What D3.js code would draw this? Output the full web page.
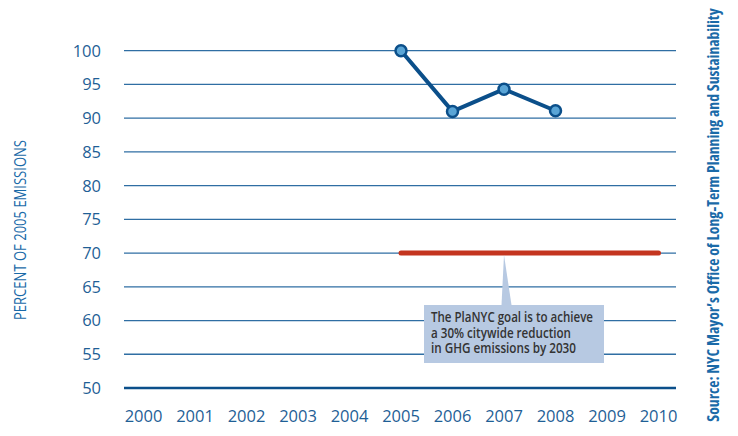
<!DOCTYPE html>
<html><head><meta charset="utf-8">
<script src="https://cdn.jsdelivr.net/npm/d3@7"></script>
<style>
html,body{margin:0;padding:0;background:#fff;}
svg{display:block;}
</style></head>
<body>
<svg id="chart" width="738" height="436"></svg>
<script>
const years = [2000,2001,2002,2003,2004,2005,2006,2007,2008,2009,2010];
const yTicks = [50,55,60,65,70,75,80,85,90,95,100];
const emissionYears = [2005,2006,2007,2008];
const emissionValues = [100,91,94.3,91.1];
const goalYears = [2005,2010];
const goalValues = [70,70];
const yTitle = "PERCENT OF 2005 EMISSIONS";
const sourceText = "Source: NYC Mayor\u2019s Office of Long-Term Planning and Sustainability";
const noteLines = ["The PlaNYC goal is to achieve","a 30% citywide reduction","in GHG emissions by 2030"];
const noteWidths = [162,140,145];

const svg = d3.select("#chart");
const blue = "#0b4f8a", txt = "#1f5f96";
const x = d3.scalePoint().domain(years).range([143.5,658.5]);
const y = d3.scaleLinear().domain([50,100]).range([388,50.7]);
const gx0 = 124, gx1 = 676;
const font = "Open Sans, DejaVu Sans, sans-serif";

function fitSize(sel, target){
  sel.attr("font-size",20);
  const w = sel.node().getComputedTextLength();
  sel.attr("font-size", 20*target/w);
}

// gridlines
svg.append("g").selectAll("line").data(yTicks).join("line")
  .attr("x1",gx0).attr("x2",gx1)
  .attr("y1",d=>y(d)).attr("y2",d=>y(d))
  .attr("stroke",d=>d===50?blue:"#2f6ea3")
  .attr("stroke-width",d=>d===50?2.6:1.3);

// y labels
svg.append("g").selectAll("text").data(yTicks).join("text")
  .attr("x",101).attr("y",d=>y(d)).attr("dy","0.36em")
  .attr("text-anchor","end")
  .attr("font-family",font).attr("font-size",16.5)
  .attr("fill",txt).text(d=>d);

// x labels
svg.append("g").selectAll("text").data(years).join("text")
  .attr("x",d=>x(d)).attr("y",422)
  .attr("text-anchor","middle")
  .attr("font-family",font).attr("font-size",16.5)
  .attr("fill",txt).text(d=>d);

// y title
svg.append("text")
  .attr("transform","translate(26,230) rotate(-90)")
  .attr("text-anchor","middle")
  .attr("font-family",font)
  .attr("font-size",16).attr("fill","#1a6aa8")
  .attr("textLength",180).attr("lengthAdjust","spacingAndGlyphs")
  .text(yTitle);

// source
const st = svg.append("text")
  .attr("transform","translate(719,215) rotate(-90)")
  .attr("text-anchor","middle")
  .attr("font-family",font).style("font-stretch","condensed")
  .attr("font-weight","bold")
  .attr("fill","#1a6aa8")
  .text(sourceText);
fitSize(st,414);

// goal line
const goalData = goalYears.map((d,i)=>({x:d,v:goalValues[i]}));
svg.append("path").datum(goalData)
  .attr("d",d3.line().x(d=>x(d.x)).y(d=>y(d.v)))
  .attr("stroke","#c4351f").attr("stroke-width",5)
  .attr("stroke-linecap","round").attr("fill","none");

// annotation
const bx = 424, by = 305, bw = 180, bh = 58;
const px = x(2006) + 52;
svg.append("path")
  .attr("d",`M${px-0.5},${y(70)+2} L${px-3},${by} L${px+7},${by} Z`)
  .attr("fill","#b7c9e2");
svg.append("rect").attr("x",bx).attr("y",by).attr("width",bw).attr("height",bh)
  .attr("fill","#b7c9e2");
const nt = svg.append("text")
  .attr("font-family",font).attr("font-weight",600)
  .attr("font-size",14).attr("fill","#333");
nt.selectAll("tspan").data(noteLines).join("tspan")
  .attr("x",431).attr("y",(d,i)=>321.7+i*15.8)
  .attr("textLength",(d,i)=>noteWidths[i]).attr("lengthAdjust","spacingAndGlyphs")
  .text(d=>d);

// emissions line
const emData = emissionYears.map((d,i)=>({x:d,v:emissionValues[i]}));
svg.append("path").datum(emData)
  .attr("d",d3.line().x(d=>x(d.x)).y(d=>y(d.v)))
  .attr("stroke",blue).attr("stroke-width",4)
  .attr("stroke-linejoin","round").attr("fill","none");
svg.append("g").selectAll("circle").data(emData).join("circle")
  .attr("cx",d=>x(d.x)).attr("cy",d=>y(d.v)).attr("r",5.5)
  .attr("fill","#5aa5d6").attr("stroke",blue).attr("stroke-width",2.5);
</script>
</body></html>
